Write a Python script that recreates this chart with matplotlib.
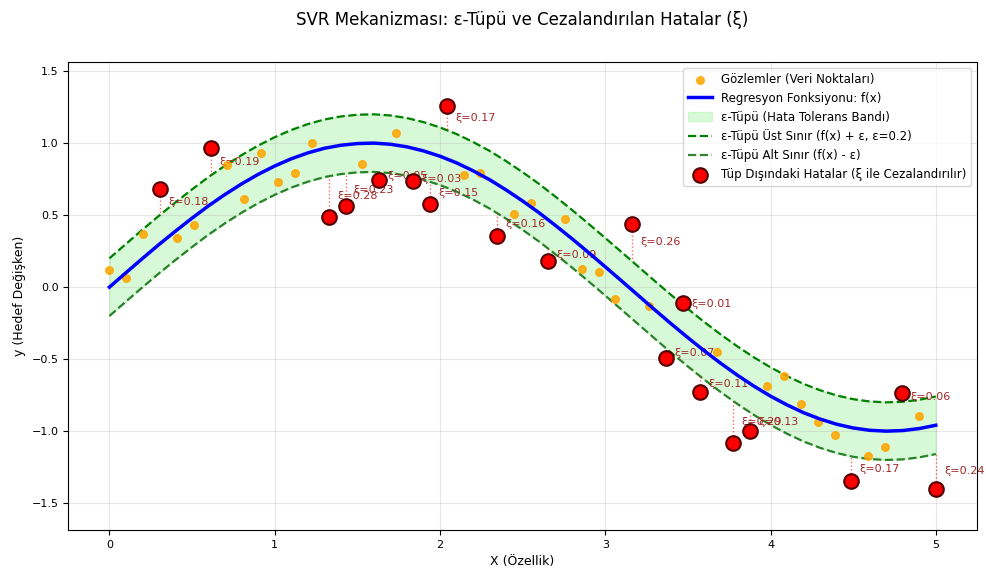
import numpy as np
import matplotlib.pyplot as plt

# Regresyon fonksiyonu f(x), 0.1 aralikla okunan degerler
curve_x = np.linspace(0, 5, 51)
curve_y = [0.000, 0.100, 0.199, 0.296, 0.389, 0.479, 0.565, 0.644, 0.717, 0.783,
           0.841, 0.891, 0.932, 0.964, 0.985, 0.997, 1.000, 0.992, 0.974, 0.946,
           0.909, 0.863, 0.808, 0.746, 0.675, 0.598, 0.516, 0.427, 0.335, 0.239,
           0.141, 0.042, -0.058, -0.158, -0.256, -0.351, -0.443, -0.530, -0.612, -0.688,
           -0.757, -0.818, -0.872, -0.916, -0.952, -0.978, -0.994, -1.000, -0.996, -0.982,
           -0.959]
epsilon = 0.2

# gozlemler (50 nokta, x = 0..5)
obs_x = np.linspace(0, 5, 50)
obs_y = [0.12, 0.06, 0.37, 0.68, 0.34, 0.43, 0.965, 0.85, 0.61, 0.93,
         0.73, 0.79, 1.00, 0.49, 0.56, 0.855, 0.745, 1.07, 0.735, 0.58,
         1.26, 0.78, 0.79, 0.355, 0.51, 0.585, 0.18, 0.47, 0.125, 0.105,
         -0.08, 0.44, -0.13, -0.49, -0.11, -0.73, -0.45, -1.08, -1.00, -0.69,
         -0.62, -0.81, -0.94, -1.03, -1.345, -1.17, -1.11, -0.735, -0.895, -1.40]

# tup disindaki noktalar: indeks, ceza (xi), hangi taraf (+1 ust, -1 alt)
out_idx = [3, 6, 13, 14, 16, 18, 19, 20, 23, 26, 31, 33, 34, 35, 37, 38, 44, 47, 49]
out_xi = [0.18, 0.19, 0.28, 0.23, 0.05, 0.03, 0.15, 0.17, 0.16, 0.09,
          0.26, 0.07, 0.01, 0.11, 0.29, 0.13, 0.17, 0.06, 0.24]
out_side = [1, 1, -1, -1, -1, -1, -1, 1, -1, -1, 1, -1, 1, -1, -1, -1, -1, 1, -1]

curve_y = np.array(curve_y)
upper = curve_y + epsilon
lower = curve_y - epsilon

fig, ax = plt.subplots(figsize=(9.87, 5.75), dpi=100)
fig.subplots_adjust(left=0.069, right=0.990, top=0.892, bottom=0.078)

ax.scatter(obs_x, obs_y, s=30, color='orange', alpha=0.85, zorder=4,
           label='Gözlemler (Veri Noktaları)')
ax.plot(curve_x, curve_y, color='blue', lw=2.5, zorder=4, label='Regresyon Fonksiyonu: f(x)')
ax.fill_between(curve_x, lower, upper, color='lightgreen', alpha=0.35,
                label='ε-Tüpü (Hata Tolerans Bandı)')
ax.plot(curve_x, upper, color='green', ls='--', lw=1.6, label='ε-Tüpü Üst Sınır (f(x) + ε, ε=0.2)')
ax.plot(curve_x, lower, color='darkgreen', ls='--', lw=1.6, alpha=0.8,
        label='ε-Tüpü Alt Sınır (f(x) - ε)')

ox = obs_x[out_idx]
oy = np.array(obs_y)[out_idx]
ax.scatter(ox, oy, s=110, color='red', edgecolor='#500000', lw=1.5, zorder=5,
           label='Tüp Dışındaki Hatalar (ξ ile Cezalandırılır)')

# ceza cizgileri ve etiketler (isaretciler etiketlerin ustunde kalir)
for x, y, xi, side in zip(ox, oy, out_xi, out_side):
    bound = y - side * xi
    ax.plot([x, x], [y, bound], color='red', ls=':', lw=1, alpha=0.6, zorder=2)
    ax.text(x + 0.05, (y + bound) / 2, f'ξ={xi:.2f}', fontsize=8, color='#a02828',
            va='center', ha='left', zorder=3)

ax.set_xlim(-0.25, 5.25)
ax.set_ylim(-1.6875, 1.5625)
ax.set_yticks([-1.5, -1.0, -0.5, 0.0, 0.5, 1.0, 1.5])
ax.tick_params(labelsize=8)
ax.set_xlabel('X (Özellik)', fontsize=9)
ax.set_ylabel('y (Hedef Değişken)', fontsize=9)
ax.set_title('SVR Mekanizması: ε-Tüpü ve Cezalandırılan Hatalar (ξ)', fontsize=12, pad=27)
ax.grid(True, alpha=0.3)
ax.legend(loc='upper right', fontsize=8.5)

fig.savefig('out.png')
